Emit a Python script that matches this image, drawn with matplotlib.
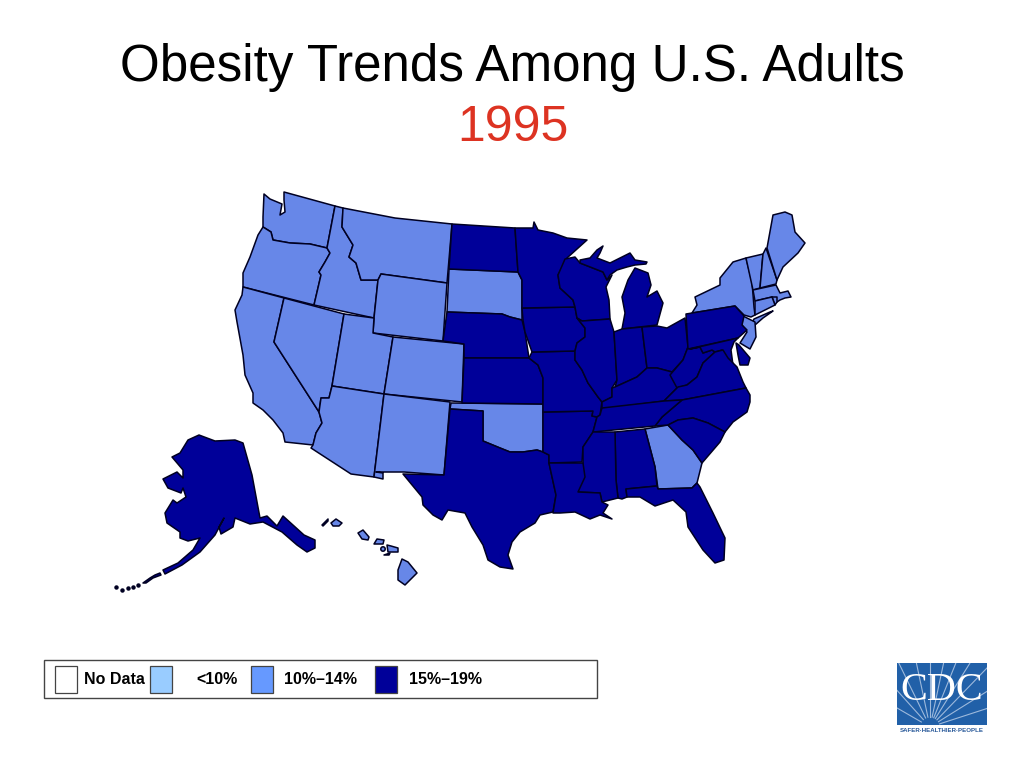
import matplotlib
matplotlib.use("Agg")
import matplotlib.pyplot as plt
from matplotlib.patches import Rectangle, Circle
import numpy as np

plt.rcParams['font.family'] = ['Liberation Sans', 'DejaVu Sans']

title = "Obesity Trends Among U.S. Adults"
year = "1995"
legend_labels = ["No Data", "<10%", "10%–14%", "15%–19%"]
legend_colors = ["#ffffff", "#99ccff", "#6699ff", "#000099"]

# state outlines (x, y in image pixels)
WA = [(264,194),(270,199),(282,204),(280,215),(285,212),(284,200),(284,192),(335,206),(327,248),(310,244),(290,243),(273,240),(271,232),(263,227),(263,217)]
OR = [(263,227),(271,232),(273,240),(290,243),(310,244),(327,248),(330,253),(325,262),(319,272),(321,275),(314,305),(243,287),(243,273),(250,257),(258,235)]
CA = [(243,287),(284,298),(274,342),(319,412),(322,423),(316,433),(313,445),(285,442),(283,433),(273,420),(263,410),(253,403),(253,393),(245,375),(243,355),(237,322),(235,310),(242,295)]
NV = [(284,298),(344,314),(332,386),(329,398),(321,398),(319,412),(274,342)]
ID = [(335,206),(343,208),(342,227),(353,245),(349,257),(356,263),(361,280),(378,280),(374,318),(314,305),(321,275),(319,272),(325,262),(330,253),(327,248)]
MT = [(343,208),(395,218),(452,224),(447,283),(381,274),(378,280),(361,280),(356,263),(349,257),(353,245),(342,227)]
WY = [(381,274),(447,283),(443,341),(373,333),(374,318),(378,280)]
UT = [(344,314),(374,318),(373,333),(393,337),(384,394),(332,386)]
CO = [(393,337),(464,344),(462,402),(384,394)]
AZ = [(332,386),(384,394),(374,477),(351,474),(311,448),(313,445),(316,433),(322,423),(319,412),(321,398),(329,398)]
NM = [(384,394),(450,402),(444,475),(404,472),(376,472),(383,473),(383,479),(374,477)]
SD = [(449,269),(518,272),(522,280),(522,320),(510,317),(502,314),(447,312)]
ND = [(452,224),(515,228),(518,272),(449,269)]
NE = [(447,312),(502,314),(510,317),(522,320),(525,332),(529,358),(464,358),(464,344),(443,341)]
KS = [(464,358),(529,358),(538,365),(543,378),(543,404),(462,403)]
OK = [(451,403),(543,404),(543,452),(537,450),(523,452),(510,452),(500,448),(483,441),(483,411),(450,409)]
TX = [(450,409),(483,411),(483,441),(500,448),(510,452),(523,452),(537,450),(543,452),(549,455),(549,463),(556,495),(553,512),(540,515),(535,523),(520,532),(512,542),(508,555),(513,569),(500,567),(488,560),(483,545),(472,527),(465,513),(448,510),(442,520),(433,515),(423,505),(422,497),(403,474),(444,475)]
AR = [(543,412),(593,411),(592,416),(597,417),(593,432),(583,447),(582,462),(549,463),(549,455),(543,452)]
MO = [(532,352),(575,351),(575,360),(582,370),(588,383),(598,397),(602,402),(600,415),(597,417),(592,416),(593,411),(543,412),(543,378),(538,365),(529,358)]
IA = [(522,308),(575,307),(577,318),(585,328),(585,337),(577,343),(575,351),(532,352),(525,332),(523,320)]
MN = [(515,228),(533,228),(534,222),(538,230),(553,233),(567,238),(587,240),(567,258),(558,275),(560,288),(573,300),(575,307),(522,308),(522,280),(518,272)]
WI = [(565,259),(575,257),(580,263),(603,272),(607,280),(612,275),(606,287),(609,300),(610,319),(582,321),(577,318),(575,307),(573,300),(560,288),(558,275)]
MI_UP = [(580,263),(580,260),(590,258),(597,250),(603,246),(600,253),(597,258),(610,263),(630,253),(635,260),(647,262),(646,264),(635,265),(627,267),(617,270),(610,275),(607,280),(603,272)]
MI_LP = [(635,268),(648,273),(651,285),(647,297),(657,291),(663,303),(657,325),(622,329),(625,313),(622,297),(628,280)]
IL = [(582,321),(610,319),(614,332),(617,380),(612,388),(612,397),(602,402),(598,397),(588,383),(582,370),(575,360),(575,351),(577,343),(585,337),(585,328),(577,318)]
IN = [(614,332),(622,329),(642,327),(647,368),(637,377),(615,387),(617,380)]
OH = [(642,327),(657,326),(667,328),(685,318),(688,347),(683,360),(672,372),(657,368),(647,368)]
KY = [(647,368),(657,368),(672,372),(678,387),(664,401),(602,409),(602,402),(612,397),(612,388),(615,387),(637,377)]
WV = [(688,347),(690,349),(700,347),(703,353),(712,350),(715,352),(703,363),(697,377),(687,385),(677,388),(670,375),(683,360)]
PA = [(686,314),(735,306),(744,316),(742,325),(747,330),(738,338),(688,349)]
NY = [(692,313),(697,305),(695,297),(720,285),(720,278),(733,262),(746,258),(752,282),(754,307),(755,315),(751,317),(744,315),(735,306)]
LI = [(752,323),(754,319),(770,312),(773,311),(763,318),(755,325)]
VT = [(746,258),(763,254),(760,288),(753,290)]
NH = [(763,254),(766,248),(777,280),(776,284),(760,288)]
ME = [(767,248),(773,215),(785,212),(792,215),(795,232),(805,243),(798,253),(783,267),(777,280)]
MA = [(753,290),(776,285),(780,293),(788,291),(791,297),(785,298),(780,300),(777,302),(772,297),(755,301)]
RI = [(772,297),(777,297),(777,302),(775,305)]
CT = [(755,301),(772,297),(775,305),(755,315)]
NJ = [(743,316),(755,322),(756,337),(750,349),(740,343),(747,332),(742,325)]
DE = [(736,343),(739,345),(750,358),(748,365),(740,365),(738,355)]
MD = [(690,349),(738,338),(734,342),(731,350),(733,365),(727,358),(722,350),(715,352),(712,350),(703,353),(700,347)]
VA = [(715,352),(723,350),(728,358),(737,367),(743,382),(746,388),(682,400),(664,401),(678,387),(687,385),(697,377),(703,363)]
NC = [(746,388),(750,395),(750,402),(747,412),(733,422),(725,432),(708,423),(693,418),(678,420),(668,425),(655,426),(662,417),(682,400)]
TN = [(602,408),(664,401),(682,400),(662,417),(655,426),(593,432),(597,417),(600,415)]
SC = [(668,425),(678,420),(693,418),(708,423),(725,432),(720,442),(702,463),(693,450),(682,440)]
GA = [(645,429),(668,425),(682,440),(693,450),(702,463),(697,483),(692,488),(658,489),(655,467)]
AL = [(615,432),(645,429),(655,467),(657,486),(626,489),(627,497),(622,499),(618,498),(616,480)]
MS = [(593,432),(615,432),(616,480),(618,498),(602,502),(600,493),(578,492),(583,463),(583,447)]
LA = [(549,463),(583,463),(585,477),(578,492),(600,493),(602,502),(608,505),(603,513),(612,519),(600,515),(590,519),(575,512),(560,513),(553,513),(556,495)]
FL = [(626,489),(657,486),(658,489),(692,488),(697,483),(700,487),(713,513),(725,538),(724,560),(715,563),(703,550),(688,527),(686,512),(673,500),(655,506),(640,497),(627,497)]
AK = [(199,435),(215,441),(235,440),(243,443),(252,475),(260,518),(267,516),(277,526),(283,516),(304,535),(315,540),(315,548),(307,552),(297,545),(282,532),(263,522),(250,524),(235,518),(233,527),(221,534),(219,527),(224,518),(215,535),(200,552),(182,565),(165,574),(163,570),(178,563),(193,550),(200,538),(188,541),(180,538),(180,532),(167,523),(165,513),(173,500),(177,503),(186,497),(183,488),(181,493),(168,488),(163,479),(177,472),(183,478),(183,470),(172,457),(180,453),(188,440)]
AK_ALEUT = [(143,583),(150,578),(155,575),(160,573),(161,575),(153,578),(146,583)]
HI_NIIHAU = [(322,525),(328,519),(328,521),(323,526)]
HI_KAUAI = [(331,523),(336,519),(342,523),(339,526),(333,526)]
HI_OAHU = [(358,533),(363,530),(369,537),(368,540),(362,539)]
HI_MOLOKAI = [(374,544),(377,539),(384,540),(383,544)]
HI_MAUI = [(387,545),(391,546),(398,548),(398,552),(388,552)]
HI_KAHOOLAWE = [(384,555),(390,553),(389,555)]
HI_BIG = [(402,559),(408,562),(417,573),(405,585),(398,580),(398,570)]
HI_LANAI = (383, 549)
aleut_x = [116, 122, 128, 133, 138]
aleut_y = [587, 590, 588, 587, 585]

mid_group = [WA, OR, CA, NV, ID, MT, WY, UT, CO, AZ, NM, SD, OK, GA, NY, LI, VT, NH, ME, MA, RI, CT, NJ,
             HI_KAUAI, HI_OAHU, HI_MOLOKAI, HI_MAUI, HI_BIG]
high_group = [ND, NE, KS, TX, AR, MO, IA, MN, WI, MI_UP, MI_LP, IL, IN, OH, KY, WV, PA, DE, MD, VA, NC, TN, SC,
              AL, MS, LA, FL, AK, AK_ALEUT, HI_NIIHAU, HI_KAHOOLAWE]

ray_angles = [18, 32, 46, 58, 68, 78, 90, 102, 116, 132, 150]

fig = plt.figure(figsize=(10.24, 7.68), dpi=100)
ax = fig.add_axes([0, 0, 1, 1])
ax.set_xlim(0, 1024)
ax.set_ylim(768, 0)
ax.axis('off')

ax.text(512, 67, title, ha='center', va='center', fontsize=36.8, color='black')
ax.text(513, 128, year, ha='center', va='center', fontsize=36, color='#dd3322')

map_mid = '#6787e8'
edge = '#000022'
for shape in mid_group:
    xs, ys = zip(*shape)
    ax.fill(xs, ys, facecolor=map_mid, edgecolor=edge, linewidth=1.1, joinstyle='round')
for shape in high_group:
    xs, ys = zip(*shape)
    ax.fill(xs, ys, facecolor='#000099', edgecolor=edge, linewidth=1.1, joinstyle='round')
ax.add_patch(Circle(HI_LANAI, 2.2, facecolor=map_mid, edgecolor=edge, linewidth=1.1))
ax.plot(aleut_x, aleut_y, ls='none', marker='o', ms=2.2, color=edge)

# legend box
ax.add_patch(Rectangle((44, 660), 553, 38, facecolor='white', edgecolor='#444444', linewidth=1.0))
swatch_x = [55, 150, 251, 375]
text_x = [84, 196, 284, 409]
for sx, tx, label, col in zip(swatch_x, text_x, legend_labels, legend_colors):
    ax.add_patch(Rectangle((sx, 666), 22, 27, facecolor=col, edgecolor='#444444', linewidth=0.9))
    ax.text(tx, 679, label, ha='left', va='center', fontsize=11.5, fontweight='bold', color='black')

# cdc logo
logo_blue = '#2160a8'
ax.add_patch(Rectangle((897, 663), 90, 62, facecolor=logo_blue, edgecolor='none'))
for ang in ray_angles:
    dx = np.cos(np.radians(ang))
    dy = np.sin(np.radians(ang))
    t = np.array([10, 120])
    ln, = ax.plot(930 + t * dx, 727 - t * dy, color='#9db9dc', lw=0.8)
    ln.set_clip_path(Rectangle((897, 663), 90, 62, transform=ax.transData))
ax.text(941.5, 691, "CDC", ha='center', va='center', fontsize=29, color='white',
        family='Liberation Serif')
ax.text(941.5, 730, "SAFER·HEALTHIER·PEOPLE", ha='center', va='center', fontsize=4.4,
        fontweight='bold', color='#2a5a9a')

fig.savefig('out.png', dpi=100)
